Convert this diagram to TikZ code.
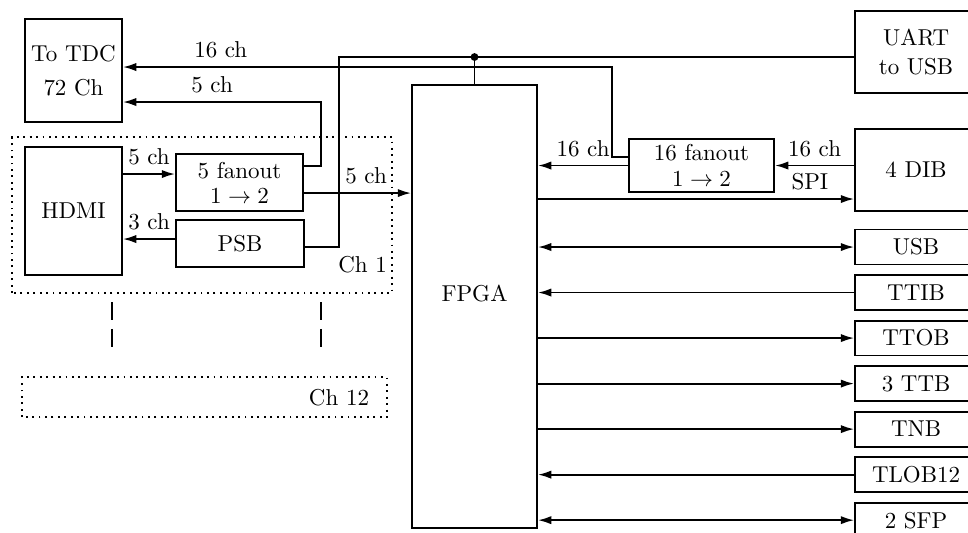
\documentclass[tikz,border=0pt]{standalone}
\usepackage{amsmath, amssymb}
\usepackage{tikz}
\usetikzlibrary{arrows.meta}

\begin{document}
\begin{tikzpicture}[>={Latex[length=5.8pt,width=3.6pt]}, thick,
    blk/.style={draw, align=center, inner sep=1pt},
    sidebox/.style={draw, minimum width=1.865cm, minimum height=0.535cm, inner sep=1pt}]
    \useasboundingbox (0,0) rectangle (14.80,8.135);

    % Các khối bên trái
    \node[blk, minimum width=1.483cm, minimum height=1.575cm] (tdc) at (1.124,7.057) {To TDC\\[3pt]72 Ch};
    \node[blk, minimum width=1.483cm, minimum height=1.957cm] (hdmi) at (1.124,4.908) {HDMI};
    \node[blk, minimum width=1.942cm, minimum height=0.872cm] (fan5) at (3.662,5.344) {5 fanout\\[-1pt]$1\to2$};
    \node[blk, minimum width=1.957cm, minimum height=0.719cm] (psb) at (3.670,4.411) {PSB};

    % Khung kênh
    \draw[dotted] (0.183,3.654) rectangle (5.994,6.040);
    \node (ch1) at (5.543,4.090) {Ch 1};
    \draw[dotted] (0.336,1.758) rectangle (5.917,2.370);
    \node (ch12) at (5.183,2.049) {Ch 12};
    \foreach \x in {1.713,4.908} {
        \draw[dash pattern=on 7.8pt off 3.9pt] (\x,3.517) -- (\x,2.829);
    }

    % FPGA và các khối bên phải
    \node[blk, minimum width=1.911cm, minimum height=6.774cm] (fpga) at (7.255,3.448) {};
    \node (fpgatxt) at (7.255,3.654) {FPGA};
    \node[blk, minimum width=2.217cm, minimum height=0.810cm] (fan16) at (10.726,5.604) {16 fanout\\[-1pt]$1\to2$};
    \node[blk, minimum width=1.865cm, minimum height=1.254cm] (uart) at (14.006,7.339) {UART\\[1pt]to USB};
    \node[blk, minimum width=1.865cm, minimum height=1.254cm] (dib) at (14.006,5.535) {4 DIB};

    % Các cổng nối với FPGA
    \foreach \name/\txt/\dir [count=\i from 0] in {usb/USB/<->, ttib/TTIB/<-, ttob/TTOB/->,
        ttb/3 TTB/->, tnb/TNB/->, tlob/TLOB12/<-, sfp/2 SFP/<->} {
        \node[sidebox] (\name) at (14.006,{4.358-0.696*\i}) {\txt};
        \draw[\dir] (fpga.east |- \name) -- (\name);
    }

    % Tín hiệu trong kênh
    \draw[->] (hdmi.east |- 0,5.474) -- node[above] {5 ch} (fan5.west |- 0,5.474);
    \draw[->] (psb.west |- 0,4.480) -- node[above] {3 ch} (hdmi.east |- 0,4.480);
    \draw[->] (fan5.east |- 0,5.183) -- node[above, pos=0.58] {5 ch} (fpga.west |- 0,5.183);
    \draw[->] (fan5.east |- 0,5.596) -| (4.908,6.575) -- node[above, pos=0.55] {5 ch} (tdc.east |- 0,6.575);

    % Tín hiệu 16 kênh
    \draw[->] (dib.west |- fan16) -- node[above] {16 ch} (fan16.east);
    \draw[->] (fan16.west) -- node[above] {16 ch} (fpga.east |- fan16);
    \draw[->] (fan16.west |- 0,5.734) -| (9.358,7.110) -- node[above, pos=0.8] {16 ch} (tdc.east |- 0,7.110);
    \draw[->] (fpga.east |- 0,5.092) -- node[above, pos=0.86] {SPI} (dib.west |- 0,5.092);

    % Đường UART
    \coordinate (jn) at (7.255,7.263);
    \draw (psb.east |- 0,4.358) -| (5.183,7.263) -- (uart.west |- jn);
    \fill (jn) circle (0.06);
    \draw (jn) -- (fpga.north);
\end{tikzpicture}
\end{document}
